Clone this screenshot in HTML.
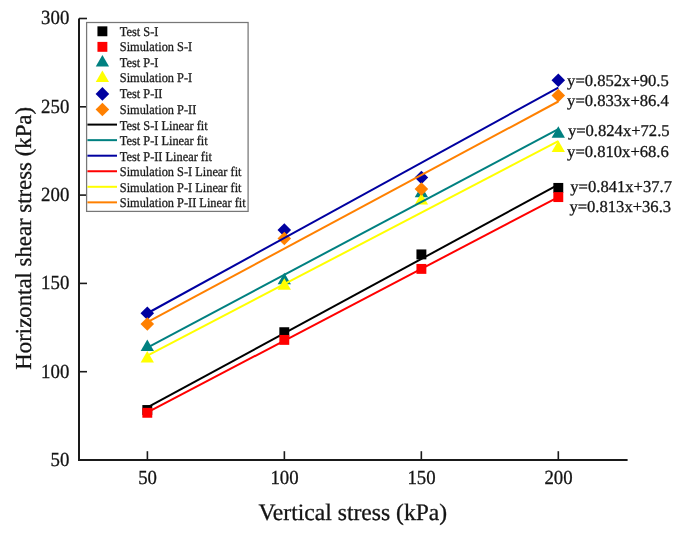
<!DOCTYPE html>
<html><head><meta charset="utf-8"><style>
html,body{margin:0;padding:0;background:#fff;}
body{width:685px;height:533px;overflow:hidden;}
svg{display:block;will-change:transform;}
text{font-family:"Liberation Serif",serif;fill:#141414;stroke:#141414;stroke-width:0.3px;text-rendering:geometricPrecision;}
.tk{font-size:20px;}
.ttl{font-size:23px;}
.eq{font-size:16.6px;}
.lg{font-size:12.35px;fill:#1a1a1a;stroke:#1a1a1a;stroke-width:0.28px;}
</style></head><body>
<svg width="685" height="533" viewBox="0 0 685 533">
<rect width="685" height="533" fill="#fff"/>
<rect x="142.35" y="405.05" width="9.9" height="9.9" fill="#000000"/>
<rect x="279.35" y="327.25" width="9.9" height="9.9" fill="#000000"/>
<rect x="416.45" y="249.45" width="9.9" height="9.9" fill="#000000"/>
<rect x="553.35" y="182.95" width="9.9" height="9.9" fill="#000000"/>
<line x1="147.40" y1="407.46" x2="558.31" y2="184.68" stroke="#000000" stroke-width="2"/>
<rect x="142.35" y="407.85" width="9.9" height="9.9" fill="#ff0000"/>
<rect x="279.35" y="334.95" width="9.9" height="9.9" fill="#ff0000"/>
<rect x="416.45" y="263.95" width="9.9" height="9.9" fill="#ff0000"/>
<rect x="553.35" y="192.15" width="9.9" height="9.9" fill="#ff0000"/>
<polygon points="147.30,339.45 153.95,350.95 140.65,350.95" fill="#008080"/>
<polygon points="284.30,272.85 290.95,284.35 277.65,284.35" fill="#008080"/>
<polygon points="421.40,185.75 428.05,197.25 414.75,197.25" fill="#008080"/>
<polygon points="558.30,126.15 564.95,137.65 551.65,137.65" fill="#008080"/>
<polygon points="147.30,350.95 153.95,362.45 140.65,362.45" fill="#ffff00"/>
<polygon points="284.30,278.25 290.95,289.75 277.65,289.75" fill="#ffff00"/>
<polygon points="421.40,192.95 428.05,204.45 414.75,204.45" fill="#ffff00"/>
<polygon points="558.30,140.55 564.95,152.05 551.65,152.05" fill="#ffff00"/>
<polygon points="147.30,306.50 154.10,313.30 147.30,320.10 140.50,313.30" fill="#0000a0"/>
<polygon points="284.30,223.20 291.10,230.00 284.30,236.80 277.50,230.00" fill="#0000a0"/>
<polygon points="421.40,170.70 428.20,177.50 421.40,184.30 414.60,177.50" fill="#0000a0"/>
<polygon points="558.30,73.50 565.10,80.30 558.30,87.10 551.50,80.30" fill="#0000a0"/>
<polygon points="147.30,317.20 154.10,324.00 147.30,330.80 140.50,324.00" fill="#ff8000"/>
<polygon points="284.30,231.70 291.10,238.50 284.30,245.30 277.50,238.50" fill="#ff8000"/>
<polygon points="421.40,182.20 428.20,189.00 421.40,195.80 414.60,189.00" fill="#ff8000"/>
<polygon points="558.30,88.70 565.10,95.50 558.30,102.30 551.50,95.50" fill="#ff8000"/>
<line x1="147.40" y1="347.51" x2="558.31" y2="129.23" stroke="#008080" stroke-width="2"/>
<line x1="147.40" y1="313.25" x2="558.31" y2="87.55" stroke="#0000a0" stroke-width="2"/>
<line x1="147.40" y1="412.41" x2="558.31" y2="197.04" stroke="#ff0000" stroke-width="2"/>
<line x1="147.40" y1="355.63" x2="558.31" y2="141.06" stroke="#ffff00" stroke-width="2"/>
<line x1="147.40" y1="322.16" x2="558.31" y2="101.50" stroke="#ff8000" stroke-width="2"/>
<path d="M79 18.5 V460 H627.6" fill="none" stroke="#1a1a1a" stroke-width="2" stroke-linejoin="miter"/>
<line x1="79" y1="371.70" x2="87" y2="371.70" stroke="#1a1a1a" stroke-width="1.6"/>
<line x1="79" y1="283.40" x2="87" y2="283.40" stroke="#1a1a1a" stroke-width="1.6"/>
<line x1="79" y1="195.10" x2="87" y2="195.10" stroke="#1a1a1a" stroke-width="1.6"/>
<line x1="79" y1="106.80" x2="87" y2="106.80" stroke="#1a1a1a" stroke-width="1.6"/>
<line x1="79" y1="18.50" x2="87" y2="18.50" stroke="#1a1a1a" stroke-width="1.6"/>
<line x1="147.40" y1="460" x2="147.40" y2="451.2" stroke="#1a1a1a" stroke-width="1.6"/>
<line x1="284.37" y1="460" x2="284.37" y2="451.2" stroke="#1a1a1a" stroke-width="1.6"/>
<line x1="421.34" y1="460" x2="421.34" y2="451.2" stroke="#1a1a1a" stroke-width="1.6"/>
<line x1="558.31" y1="460" x2="558.31" y2="451.2" stroke="#1a1a1a" stroke-width="1.6"/>
<rect x="86.6" y="22.5" width="161.5" height="188.9" fill="#fff" stroke="#777" stroke-width="1.25"/>
<rect x="97.45" y="26.35" width="9.9" height="9.9" fill="#000000"/>
<text transform="translate(119.8,35.80) scale(1,1.08)" class="lg">Test S-I</text>
<rect x="97.45" y="41.90" width="9.9" height="9.9" fill="#ff0000"/>
<text transform="translate(119.8,51.35) scale(1,1.08)" class="lg">Simulation S-I</text>
<polygon points="102.40,54.90 109.05,66.40 95.75,66.40" fill="#008080"/>
<text transform="translate(119.8,66.90) scale(1,1.08)" class="lg">Test P-I</text>
<polygon points="102.40,70.45 109.05,81.95 95.75,81.95" fill="#ffff00"/>
<text transform="translate(119.8,82.45) scale(1,1.08)" class="lg">Simulation P-I</text>
<polygon points="102.40,87.10 109.20,93.90 102.40,100.70 95.60,93.90" fill="#0000a0"/>
<text transform="translate(119.8,98.00) scale(1,1.08)" class="lg">Test P-II</text>
<polygon points="102.40,102.65 109.20,109.45 102.40,116.25 95.60,109.45" fill="#ff8000"/>
<text transform="translate(119.8,113.55) scale(1,1.08)" class="lg">Simulation P-II</text>
<line x1="87.4" y1="124.60" x2="117" y2="124.60" stroke="#000000" stroke-width="2"/>
<text transform="translate(119.8,129.60) scale(1,1.08)" class="lg">Test S-I Linear fit</text>
<line x1="87.4" y1="140.15" x2="117" y2="140.15" stroke="#008080" stroke-width="2"/>
<text transform="translate(119.8,145.15) scale(1,1.08)" class="lg">Test P-I Linear fit</text>
<line x1="87.4" y1="155.70" x2="117" y2="155.70" stroke="#0000a0" stroke-width="2"/>
<text transform="translate(119.8,160.70) scale(1,1.08)" class="lg">Test P-II Linear fit</text>
<line x1="87.4" y1="171.25" x2="117" y2="171.25" stroke="#ff0000" stroke-width="2"/>
<text transform="translate(119.8,176.25) scale(1,1.08)" class="lg">Simulation S-I Linear fit</text>
<line x1="87.4" y1="186.80" x2="117" y2="186.80" stroke="#ffff00" stroke-width="2"/>
<text transform="translate(119.8,191.80) scale(1,1.08)" class="lg">Simulation P-I Linear fit</text>
<line x1="87.4" y1="202.35" x2="117" y2="202.35" stroke="#ff8000" stroke-width="2"/>
<text transform="translate(119.8,207.35) scale(1,1.08)" class="lg">Simulation P-II Linear fit</text>
<text transform="translate(69.3,465.86) scale(0.94,1)" text-anchor="end" class="tk">50</text>
<text transform="translate(69.3,377.56) scale(0.94,1)" text-anchor="end" class="tk">100</text>
<text transform="translate(69.3,289.26) scale(0.94,1)" text-anchor="end" class="tk">150</text>
<text transform="translate(69.3,200.96) scale(0.94,1)" text-anchor="end" class="tk">200</text>
<text transform="translate(69.3,112.66) scale(0.94,1)" text-anchor="end" class="tk">250</text>
<text transform="translate(69.3,24.36) scale(0.94,1)" text-anchor="end" class="tk">300</text>
<text transform="translate(147.60,484.2) scale(0.94,1)" text-anchor="middle" class="tk">50</text>
<text transform="translate(284.57,484.2) scale(0.94,1)" text-anchor="middle" class="tk">100</text>
<text transform="translate(421.54,484.2) scale(0.94,1)" text-anchor="middle" class="tk">150</text>
<text transform="translate(558.51,484.2) scale(0.94,1)" text-anchor="middle" class="tk">200</text>
<text x="352.8" y="519.8" text-anchor="middle" class="ttl" style="font-size:23.6px">Vertical stress (kPa)</text>
<text transform="translate(30.6,238.3) rotate(-90)" x="0" y="0" text-anchor="middle" class="ttl" style="font-size:22.8px">Horizontal shear stress (kPa)</text>
<text x="567.1" y="86.2" class="eq">y=0.852x+90.5</text>
<text x="567.1" y="105.7" class="eq">y=0.833x+86.4</text>
<text x="567.9" y="135.6" class="eq">y=0.824x+72.5</text>
<text x="567.1" y="156.9" class="eq">y=0.810x+68.6</text>
<text x="570.3" y="192.0" class="eq">y=0.841x+37.7</text>
<text x="569.4" y="212.0" class="eq">y=0.813x+36.3</text>
</svg>
</body></html>
